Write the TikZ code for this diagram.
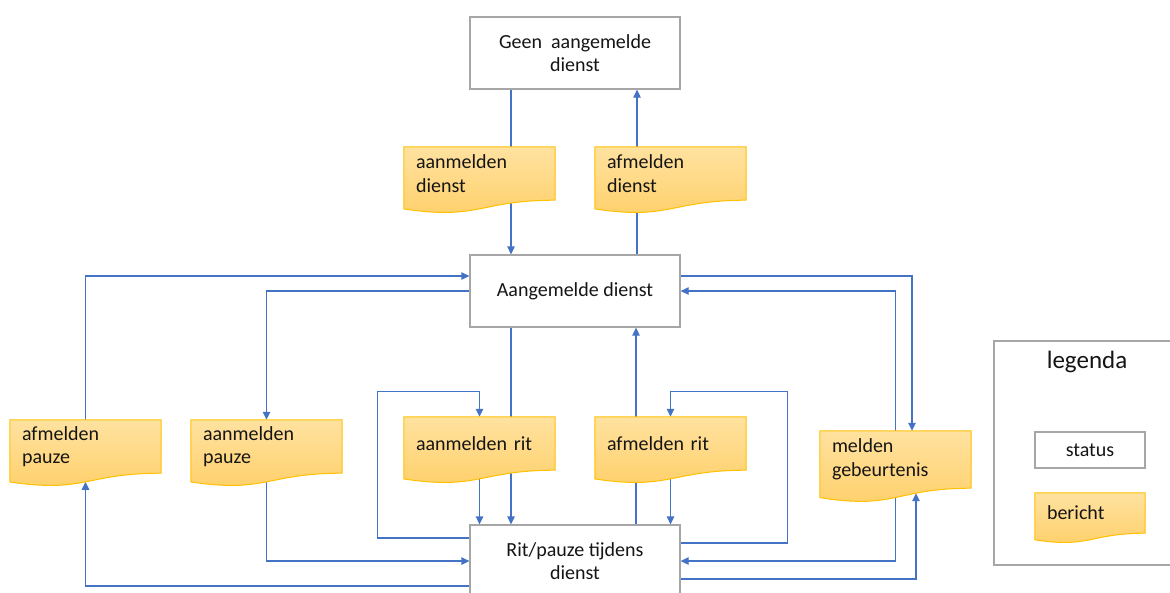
\documentclass[tikz,border=0pt]{standalone}
\usepackage{fontspec}
\setmainfont{Carlito}
\usetikzlibrary{arrows.meta,calc}

\definecolor{lijnblauw}{HTML}{4472C4}
\definecolor{randgrijs}{HTML}{A6A6A6}
\definecolor{goudrand}{HTML}{FFC000}
\definecolor{goudlicht}{HTML}{FFE2A0}
\definecolor{gouddonker}{HTML}{FFCF68}
\definecolor{tekst}{HTML}{151515}

\pgfdeclarelayer{edges}
\pgfdeclarelayer{back}
\pgfsetlayers{edges,back,main}

% bericht: name, x, y (top left), width, height, text
\newcommand{\bericht}[6]{%
  \pgfmathsetmacro{\bw}{#4-24}
  \node[berichtnode, minimum width=#4pt, minimum height=#5pt, text width=\bw pt]
    (#1) at (#2+#4/2, #3+#5/2) {#6};
  \begin{pgfonlayer}{back}
  \shade[top color=goudlicht, bottom color=gouddonker, draw=goudrand, line width=1pt]
    (#1.north west) -- (#1.north east) -- (#1.south east)
    .. controls (#1.south) and ([yshift=-0.38*#5]#1.south) ..
    ([yshift=-0.165*#5]#1.south west) -- cycle;
  \end{pgfonlayer}
}

\begin{document}
\begin{tikzpicture}[x=1pt, y=-1pt,
  every node/.style={font=\fontsize{20}{23.5}\selectfont, text=tekst},
  status/.style={draw=randgrijs, line width=1.3pt, fill=white, minimum width=210pt,
    minimum height=72pt, align=center, inner sep=0pt},
  berichtnode/.style={inner xsep=12pt, inner ysep=0pt, align=left},
  pijl/.style={draw=lijnblauw, line width=1.3pt, -{Triangle[length=8pt,width=7.5pt]}}]

\useasboundingbox (0,0) rectangle (1170,592);

% statussen
\node[status] (geen) at (575,53) {Geen\ \ aangemelde\\dienst};
\node[status] (aangemeld) at (575,291) {Aangemelde dienst};
\node[status] (ritpauze) at (575,561) {Rit/pauze tijdens\\dienst};

% berichten
\bericht{aandienst}{404}{147}{151}{53}{aanmelden\\dienst}
\bericht{afdienst}{595}{147}{151}{53}{afmelden\\dienst}
\bericht{afpauze}{10}{420}{151}{53}{afmelden\\pauze}
\bericht{aanpauze}{191}{420}{151}{53}{aanmelden\\pauze}
\bericht{aanrit}{404}{417}{151}{53}{aanmelden rit}
\bericht{afrit}{595}{417}{151}{53}{afmelden rit}
\bericht{melden}{820}{431}{151}{57}{melden\\gebeurtenis}

% legenda
\node[font=\fontsize{25}{30}\selectfont] (legenda) at (1087,362) {legenda};
\node[status, minimum width=110pt, minimum height=36pt] (legstatus) at (1090,450) {status};
\bericht{legbericht}{1035}{493}{110}{40}{bericht}

\begin{pgfonlayer}{edges}
\draw[randgrijs, line width=1.3pt, fill=white] (994,341) rectangle (1190,565);

\draw[pijl] ([xshift=-64]geen.south) -- ([xshift=-64]aangemeld.north);
\draw[pijl] ([xshift=62]aangemeld.north) -- ([xshift=62]geen.south);

% pauze
\draw[pijl] (aangemeld.west) -| (aanpauze.north);
\draw[pijl] (aanpauze.center) |- (ritpauze.west);
\draw[pijl] (afpauze.north) |- ([yshift=15]aangemeld.west);
\draw[pijl] ([yshift=-25]ritpauze.west) -| ([yshift=-8.6]afpauze.south);

% rit
\draw[pijl] ([xshift=-64]aangemeld.south) -- ([xshift=-64]ritpauze.north);
\draw[pijl] ([yshift=23]ritpauze.west) -- ++(-92,0) |- ([yshift=25]aanrit.north) -- (aanrit.north);
\draw[pijl] (aanrit.center) -- (aanrit.center |- ritpauze.north);
\draw[pijl] ([xshift=61]ritpauze.north) -- ([xshift=61]aangemeld.south);
\draw[pijl] ([yshift=18]ritpauze.east) -- ++(107,0) |- ([yshift=25]afrit.north) -- (afrit.north);
\draw[pijl] (afrit.center) -- (afrit.center |- ritpauze.north);

% gebeurtenis
\draw[pijl] ([yshift=15]aangemeld.east) -| ([xshift=16.5]melden.north);
\draw[pijl] (melden.north) |- (aangemeld.east);
\draw[pijl] (melden.center) |- (ritpauze.east);
\draw[pijl] ([yshift=-18]ritpauze.east) -| ([xshift=20.5,yshift=-5]melden.south);
\end{pgfonlayer}

\end{tikzpicture}
\end{document}
